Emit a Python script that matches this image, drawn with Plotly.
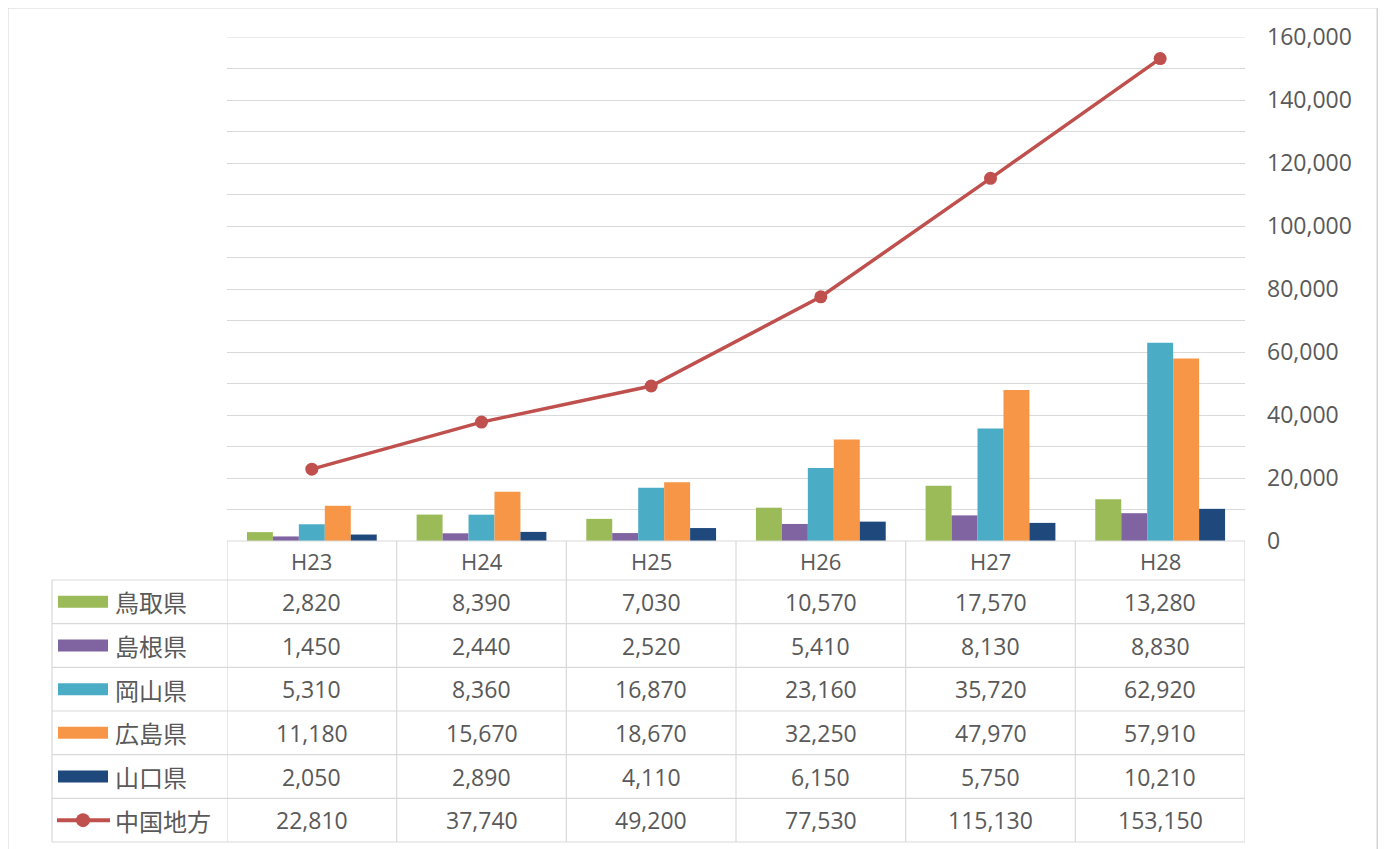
import plotly.graph_objects as go

# ---------------- data ----------------
categories = ["H23", "H24", "H25", "H26", "H27", "H28"]
tottori   = [2820, 8390, 7030, 10570, 17570, 13280]
shimane   = [1450, 2440, 2520, 5410, 8130, 8830]
okayama   = [5310, 8360, 16870, 23160, 35720, 62920]
hiroshima = [11180, 15670, 18670, 32250, 47970, 57910]
yamaguchi = [2050, 2890, 4110, 6150, 5750, 10210]
chugoku   = [22810, 37740, 49200, 77530, 115130, 153150]

bar_names = ["鳥取県", "島根県", "岡山県", "広島県", "山口県"]
line_name = "中国地方"
bar_series = [tottori, shimane, okayama, hiroshima, yamaguchi]
bar_colors = ["#9BBB59", "#8064A2", "#4BACC6", "#F79646", "#1F497D"]
line_color = "#C0504D"
y_max = 160000

# ---------------- layout constants (pixels, window coords) ----------------
OFF = 8                                      # page body margin
W, H = 1386, 849
PL, PR, PT, PB = 227, 1245, 37, 541          # plot area in window coords
TXT = "#595959"
GRID = "#d9d9d9"
FONT = "Open Sans, Noto Sans CJK JP, sans-serif"
CJK = "Noto Sans CJK JP, sans-serif"


def xp(px):
    return (px - PL) / (PR - PL)


def yp(py):
    return (PB - py) / (PB - PT)


fig = go.Figure()
for name, vals, col in zip(bar_names, bar_series, bar_colors):
    fig.add_trace(go.Bar(x=categories, y=vals, name=name, marker=dict(color=col, line=dict(width=0))))
fig.add_trace(go.Scatter(x=categories, y=chugoku, name=line_name, mode="lines+markers",
                         line=dict(color=line_color, width=3.5),
                         marker=dict(color=line_color, size=13)))

shapes = []
annotations = []

# outer frame
shapes.append(dict(type="rect", xref="paper", yref="paper", x0=xp(7), x1=xp(1378), y0=yp(875), y1=yp(7),
                   line=dict(color="#d4d4d4", width=3), layer="below"))

# top gridline at the axis maximum
shapes.append(dict(type="line", xref="paper", yref="y", x0=0, x1=1, y0=y_max, y1=y_max,
                   line=dict(color=GRID, width=1), layer="below"))

# table geometry
header_top, header_bot = PB, 580
row_h = (842 - header_bot) / 6
row_edges = [header_bot + i * row_h for i in range(7)]
leg_left = 52

# horizontal lines
shapes.append(dict(type="line", xref="paper", yref="paper", x0=0, x1=1, y0=yp(header_top), y1=yp(header_top),
                   line=dict(color=GRID, width=1.2)))
for ry in row_edges:
    shapes.append(dict(type="line", xref="paper", yref="paper", x0=xp(leg_left), x1=1, y0=yp(ry), y1=yp(ry),
                       line=dict(color=GRID, width=1.2)))
# vertical lines
for i in range(len(categories) + 1):
    shapes.append(dict(type="line", xref="x", yref="paper", x0=i - 0.5, x1=i - 0.5,
                       y0=yp(header_top), y1=yp(row_edges[-1]), line=dict(color=GRID, width=1.2)))
shapes.append(dict(type="line", xref="paper", yref="paper", x0=xp(leg_left), x1=xp(leg_left),
                   y0=yp(row_edges[0]), y1=yp(row_edges[-1]), line=dict(color=GRID, width=1.2)))

# header labels
for c in categories:
    annotations.append(dict(x=c, y=yp((header_top + header_bot) / 2), xref="x", yref="paper",
                            xanchor="center", yanchor="middle",
                            text=c, showarrow=False, font=dict(family=FONT, size=22, color=TXT)))

# rows
all_series = bar_series + [chugoku]
all_names = bar_names + [line_name]
for r, (name, vals) in enumerate(zip(all_names, all_series)):
    cy = (row_edges[r] + row_edges[r + 1]) / 2
    for c, v in zip(categories, vals):
        annotations.append(dict(x=c, y=yp(cy), xref="x", yref="paper", text=f"{v:,}",
                                xanchor="center", yanchor="middle",
                                showarrow=False, font=dict(family=FONT, size=23, color=TXT)))
    # legend key
    if r < len(bar_names):
        shapes.append(dict(type="rect", xref="paper", yref="paper", x0=xp(58), x1=xp(108),
                           y0=yp(cy + 6), y1=yp(cy - 6), fillcolor=bar_colors[r], line=dict(width=0)))
    else:
        shapes.append(dict(type="line", xref="paper", yref="paper", x0=xp(57), x1=xp(110),
                           y0=yp(cy), y1=yp(cy), line=dict(color=line_color, width=4)))
        shapes.append(dict(type="circle", xref="paper", yref="paper", x0=xp(76), x1=xp(90),
                           y0=yp(cy + 7), y1=yp(cy - 7), fillcolor=line_color, line=dict(width=0)))
    annotations.append(dict(x=xp(113), y=yp(cy), xref="paper", yref="paper", text=name,
                            xanchor="left", yanchor="middle", showarrow=False,
                            font=dict(family=CJK, size=24, color=TXT)))

fig.update_layout(
    width=W, height=H,
    margin=dict(l=PL - OFF, r=W - PR + OFF, t=PT - OFF, b=H - PB + OFF, autoexpand=False),
    paper_bgcolor="white", plot_bgcolor="white",
    barmode="group", bargap=0.235, bargroupgap=0,
    showlegend=False,
    font=dict(family=FONT, color=TXT),
    xaxis=dict(type="category", range=[-0.5, 5.5], showticklabels=False, showgrid=False,
               zeroline=False, showline=False, ticks=""),
    yaxis=dict(side="right", range=[0, y_max], dtick=20000, tickformat=",",
               showgrid=True, gridcolor=GRID, gridwidth=1, zeroline=False, showline=False,
               ticks="", ticklabelstandoff=21,
               tickfont=dict(family=FONT, size=23, color=TXT),
               minor=dict(dtick=10000, showgrid=True, gridcolor=GRID, gridwidth=1)),
    shapes=shapes,
    annotations=annotations,
)

fig.write_html("out.html")
